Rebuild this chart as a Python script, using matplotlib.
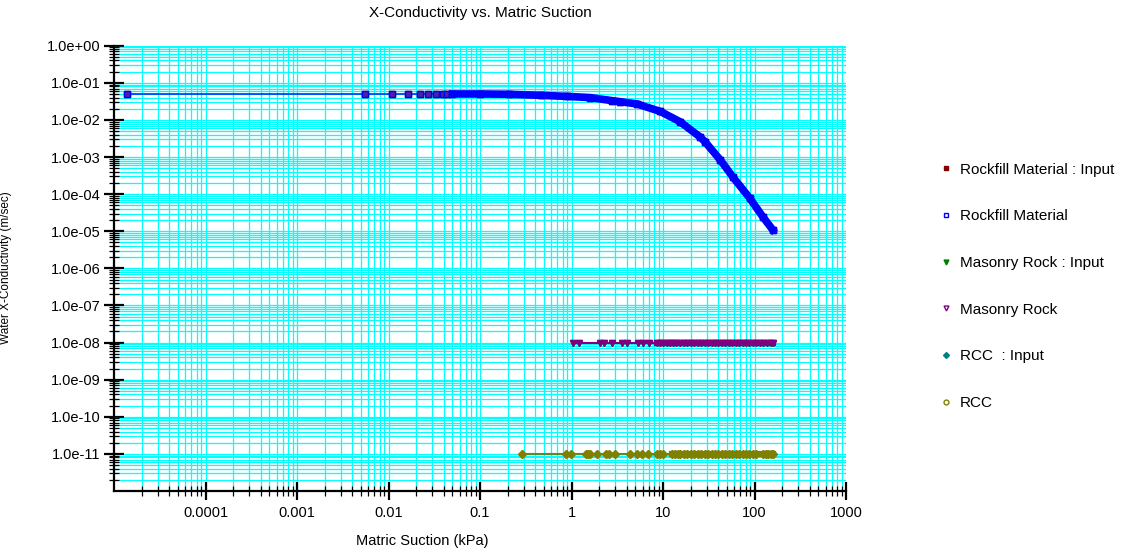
#!/usr/bin/env python

import numpy as np
from matplotlib import pyplot as plt
from matplotlib.lines import Line2D
from matplotlib.ticker import LogLocator, FixedLocator, FixedFormatter, NullFormatter


#
# Data (suction in kPa, conductivity in m/sec)
#
rockfill_suction = [1.4e-5, 0.0055, 0.011, 0.0165, 0.022, 0.027, 0.033, 0.039, 0.044, 0.05,
                    0.1, 0.21, 0.46, 0.9, 1.6, 2.8, 3.4, 5.2, 9.3, 15.4, 25.3, 28.7,
                    42.5, 58, 89, 124, 158]
rockfill_k = [0.05, 0.05, 0.05, 0.05, 0.05, 0.05, 0.05, 0.05, 0.05, 0.05,
              0.05, 0.049, 0.046, 0.043, 0.040, 0.033, 0.031, 0.027, 0.017, 0.0089, 0.0035, 0.0026,
              8.2e-4, 2.9e-4, 7.7e-5, 2.4e-5, 1.1e-5]

masonry_suction = [1.05, 1.21, 2.03, 2.28, 2.77, 3.6, 4.0, 5.3, 6.0, 7.1,
                   8.5, 9.2, 10, 11, 12, 13, 14, 15.5, 17, 18.5, 20, 22, 24, 26, 28.5, 31,
                   34, 37, 40, 44, 48, 52, 57, 62, 68, 74, 81, 88, 96, 105, 115, 125,
                   137, 150, 160]
masonry_k = 1.0e-8

rcc_suction = [0.29, 0.86, 0.98, 1.45, 1.52, 1.6, 1.9, 2.4, 2.6, 3.0, 4.4, 5.2, 5.9, 6.9,
               8.5, 9.2, 10.0, 12.6, 13.5, 14.5, 15.5, 17, 18.5, 20, 22, 24, 26, 28.5, 31,
               34, 37, 40, 44, 48, 52, 57, 62, 68, 74, 81, 88, 96, 104, 124, 132, 140,
               150, 160]
rcc_k = 1.0e-11

# first index of the densely sampled part of each curve
ROCKFILL_DENSE = 9
MASONRY_DENSE = 10
RCC_DENSE = 17

x_tick_values = [1e-4, 1e-3, 1e-2, 1e-1, 1, 10, 100, 1000]
x_tick_labels = ['0.0001', '0.001', '0.01', '0.1', '1', '10', '100', '1000']
y_tick_values = [10.0 ** -n for n in range(0, 12)]

legend_labels = ['Rockfill Material : Input', 'Rockfill Material',
                 'Masonry Rock : Input', 'Masonry Rock',
                 'RCC  : Input', 'RCC']

plt.rcParams['font.family'] = ['Liberation Sans', 'DejaVu Sans']

W, H = 1126, 551
fig = plt.figure(figsize=(W / 100, H / 100), dpi=100)
ax = fig.add_axes([114 / W, 1 - 491 / H, (846 - 114) / W, (491 - 45.7) / H])

#
# Curves
#
mas_y = np.full(len(masonry_suction), masonry_k)
rcc_y = np.full(len(rcc_suction), rcc_k)

# rockfill
ax.plot(rockfill_suction, rockfill_k, color='#800000', ls='none', marker='s', ms=4, zorder=3)
ax.plot(rockfill_suction, rockfill_k, color='#0000FF', lw=1.0, marker='s', ms=4.5,
        mfc='#5020A0', mec='#0000FF', mew=1, zorder=4)
ax.plot(rockfill_suction[ROCKFILL_DENSE:], rockfill_k[ROCKFILL_DENSE:], color='#0000FF',
        lw=5.5, solid_capstyle='projecting', solid_joinstyle='round', zorder=4)

# masonry rock
ax.plot(masonry_suction, mas_y, color='#008000', ls='none', marker='v', ms=4.5, zorder=3)
ax.plot(masonry_suction, mas_y, color='#800080', lw=1.5, marker='v', ms=5,
        mfc='#800080', mec='#800080', zorder=4)
ax.plot(masonry_suction[MASONRY_DENSE:], mas_y[MASONRY_DENSE:], color='#800080',
        lw=4.5, zorder=4)

# rcc
ax.plot(rcc_suction, rcc_y, color='#008080', ls='none', marker='D', ms=3.5, zorder=3)
ax.plot(rcc_suction, rcc_y, color='#5A8A30', lw=1.5, marker='D', ms=4,
        mfc='#808000', mec='#808000', zorder=4)
ax.plot(rcc_suction[RCC_DENSE:], rcc_y[RCC_DENSE:], color='#808000', lw=4.5, zorder=4)

#
# Axes
#
ax.set_xscale('log')
ax.set_yscale('log')
ax.set_xlim(1e-5, 1e3)
ax.set_ylim(1e-12, 1e0)

ax.xaxis.set_major_locator(FixedLocator(x_tick_values))
ax.xaxis.set_major_formatter(FixedFormatter(x_tick_labels))
ax.xaxis.set_minor_locator(LogLocator(base=10, subs=np.arange(2, 10), numticks=30))
ax.xaxis.set_minor_formatter(NullFormatter())
ax.yaxis.set_major_locator(FixedLocator(y_tick_values))
ax.yaxis.set_major_formatter(FixedFormatter(['%.1e' % v for v in y_tick_values]))
ax.yaxis.set_minor_locator(LogLocator(base=10, subs=np.arange(2, 10), numticks=30))
ax.yaxis.set_minor_formatter(NullFormatter())

ax.grid(True, which='both', color='#00FFFF', lw=0.9)
ax.set_axisbelow(True)

for side in ('top', 'right'):
    ax.spines[side].set_visible(False)
for side in ('left', 'bottom'):
    ax.spines[side].set_linewidth(1.6)

ax.tick_params(which='major', direction='inout', length=15, width=1.6, labelsize=10.5, pad=2)
ax.tick_params(which='minor', direction='inout', length=7, width=0.9)
ax.tick_params(axis='x', which='major', length=13, pad=4)

#
# Text
#
fig.text(480 / W, 1 - 13 / H, 'X-Conductivity vs. Matric Suction', ha='center', va='center',
         fontsize=11)
fig.text(422 / W, 1 - 541 / H, 'Matric Suction (kPa)', ha='center', va='center', fontsize=10.5)
fig.text(6 / W, 1 - 268 / H, 'Water X-Conductivity (m/sec)', ha='center', va='center',
         rotation=90, fontsize=8.5)

handles = [
    Line2D([], [], ls='none', marker='s', ms=3.5, color='#800000'),
    Line2D([], [], ls='none', marker='s', ms=3.5, mfc='white', mec='#0000FF'),
    Line2D([], [], ls='none', marker='v', ms=3.5, color='#008000'),
    Line2D([], [], ls='none', marker='v', ms=3.5, mfc='white', mec='#800080'),
    Line2D([], [], ls='none', marker='D', ms=3, color='#008080'),
    Line2D([], [], ls='none', marker='o', ms=3.5, mfc='white', mec='#808000'),
]
fig.legend(handles, legend_labels, loc='upper left', bbox_to_anchor=(932 / W, 1 - 155 / H),
           frameon=False, fontsize=11, handlelength=0.8, handletextpad=0.5,
           labelspacing=2.14, borderpad=0)

fig.savefig('out.png', dpi=100)
